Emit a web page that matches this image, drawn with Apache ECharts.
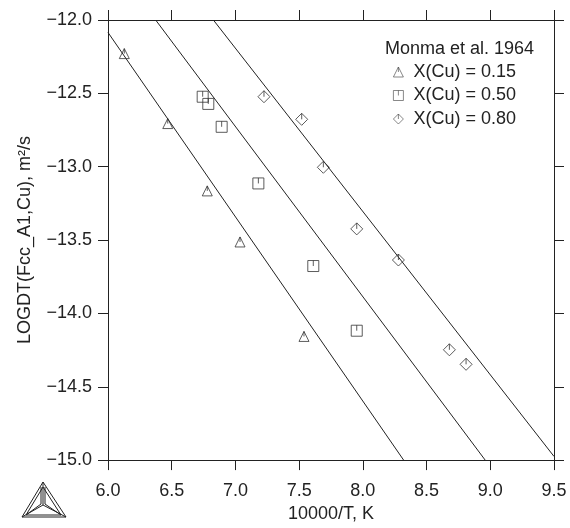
<!DOCTYPE html>
<html>
<head>
<meta charset="utf-8">
<script src="https://cdn.jsdelivr.net/npm/echarts@6/dist/echarts.min.js"></script>
<style>
  html, body { margin: 0; padding: 0; background: #fff; }
  #chart { width: 570px; height: 528px; }
</style>
</head>
<body>
<div id="chart"></div>
<script>
// measured points, x = 10000/T, y = log10 D
const cu015 = [[6.128, -12.229], [6.469, -12.706], [6.779, -13.165], [7.036, -13.513], [7.538, -14.157]];
const cu050 = [[6.743, -12.523], [6.787, -12.572], [6.892, -12.728], [7.18, -13.114], [7.611, -13.677], [7.952, -14.118]];
const cu080 = [[7.224, -12.523], [7.52, -12.677], [7.69, -13.004], [7.952, -13.424], [8.279, -13.636], [8.679, -14.248], [8.81, -14.347]];

// calculated lines (end points on the frame)
const calc015 = [[6.0, -12.085], [8.32, -15.0]];
const calc050 = [[6.374, -12.0], [8.96, -15.0]];
const calc080 = [[6.827, -12.0], [9.5, -14.975]];

const seriesNames = ["X(Cu) = 0.15", "X(Cu) = 0.50", "X(Cu) = 0.80"];
const xTicks = [6.0, 6.5, 7.0, 7.5, 8.0, 8.5, 9.0, 9.5];
const yTicks = [-15.0, -14.5, -14.0, -13.5, -13.0, -12.5, -12.0];

const ink = "#222";
const font = "Liberation Sans";

const symTri = "path://M5,0L10,10L0,10Z M5,0L5,5";
const symSq = "path://M0,0L10,0L10,10L0,10Z M5,0L5,5";
const symDia = "path://M5,0L10,5L5,10L0,5Z M5,0L5,5";

const chart = echarts.init(document.getElementById("chart"));

function frameAxis(extra) {
  return Object.assign({
    type: "value",
    axisLine: { show: true, onZero: false, lineStyle: { color: ink, width: 1 } },
    axisTick: { show: true, inside: false, length: 10, lineStyle: { color: ink } },
    splitLine: { show: false },
    axisLabel: { show: false }
  }, extra);
}

function scatter(name, data, symbol, size) {
  return {
    name: name,
    type: "scatter",
    data: data,
    symbol: symbol,
    symbolSize: size,
    itemStyle: { color: "rgba(0,0,0,0)", borderColor: "#333", borderWidth: 1 },
    z: 3
  };
}

function calcLine(data) {
  return {
    type: "line",
    data: data,
    showSymbol: false,
    symbol: "none",
    lineStyle: { color: ink, width: 1 },
    silent: true,
    z: 2
  };
}

chart.setOption({
  animation: false,
  backgroundColor: "#fff",
  textStyle: { fontFamily: font, color: ink },
  grid: { left: 108, right: 16, top: 20, bottom: 62 },
  title: {
    text: "Monma et al. 1964",
    left: 385,
    top: 40,
    padding: 0,
    textStyle: { fontFamily: font, fontSize: 18, fontWeight: "normal", color: ink }
  },
  legend: {
    data: seriesNames,
    orient: "vertical",
    left: 393,
    top: 63,
    padding: 0,
    itemWidth: 10,
    itemHeight: 10,
    itemGap: 5.5,
    itemStyle: { color: "rgba(0,0,0,0)", borderColor: "#444", borderWidth: 0.8 },
    textStyle: { fontFamily: font, fontSize: 18, color: ink, padding: [0, 0, 0, 5] }
  },
  xAxis: [
    frameAxis({
      position: "bottom",
      min: 6.0, max: 9.5, interval: 0.5,
      name: "10000/T, K",
      nameLocation: "middle",
      nameGap: 43,
      nameTextStyle: { fontFamily: font, fontSize: 18, color: ink },
      axisLabel: {
        show: true, margin: 22, fontFamily: font, fontSize: 18, color: ink,
        formatter: v => v.toFixed(1)
      }
    }),
    frameAxis({ position: "top", min: 6.0, max: 9.5, interval: 0.5 })
  ],
  yAxis: [
    frameAxis({
      position: "left",
      min: -15.0, max: -12.0, interval: 0.5,
      name: "LOGDT(Fcc_A1,Cu), m²/s",
      nameLocation: "middle",
      nameGap: 74,
      nameTextStyle: { fontFamily: font, fontSize: 18, color: ink },
      axisLabel: {
        show: true, margin: 16, fontFamily: font, fontSize: 18, color: ink,
        formatter: v => (v < 0 ? "\u2212" + Math.abs(v).toFixed(1) : v.toFixed(1))
      }
    }),
    frameAxis({ position: "right", min: -15.0, max: -12.0, interval: 0.5 })
  ],
  series: [
    calcLine(calc015),
    calcLine(calc050),
    calcLine(calc080),
    scatter(seriesNames[0], cu015, symTri, [10, 10]),
    scatter(seriesNames[1], cu050, symSq, [11, 11]),
    scatter(seriesNames[2], cu080, symDia, [12, 12])
  ],
  graphic: [
    // logo, bottom left
    {
      type: "group",
      silent: true,
      children: [
        { type: "polygon", shape: { points: [[43, 482], [22, 517], [66, 517]] }, style: { fill: "none", stroke: ink, lineWidth: 1 } },
        { type: "polygon", shape: { points: [[43, 487], [26, 515], [61, 515]] }, style: { fill: "none", stroke: ink, lineWidth: 1 } },
        { type: "polyline", shape: { points: [[43, 482], [43, 505]] }, style: { stroke: ink, lineWidth: 1 } },
        { type: "polyline", shape: { points: [[41, 487], [41, 504], [26, 515]] }, style: { fill: "none", stroke: ink, lineWidth: 1 } },
        { type: "polyline", shape: { points: [[22, 517], [43, 505], [66, 517]] }, style: { fill: "none", stroke: ink, lineWidth: 1 } },
        { type: "polyline", shape: { points: [[45, 487], [45, 504], [61, 515]] }, style: { fill: "none", stroke: ink, lineWidth: 1 } }
      ]
    }
  ]
});
</script>
</body>
</html>
